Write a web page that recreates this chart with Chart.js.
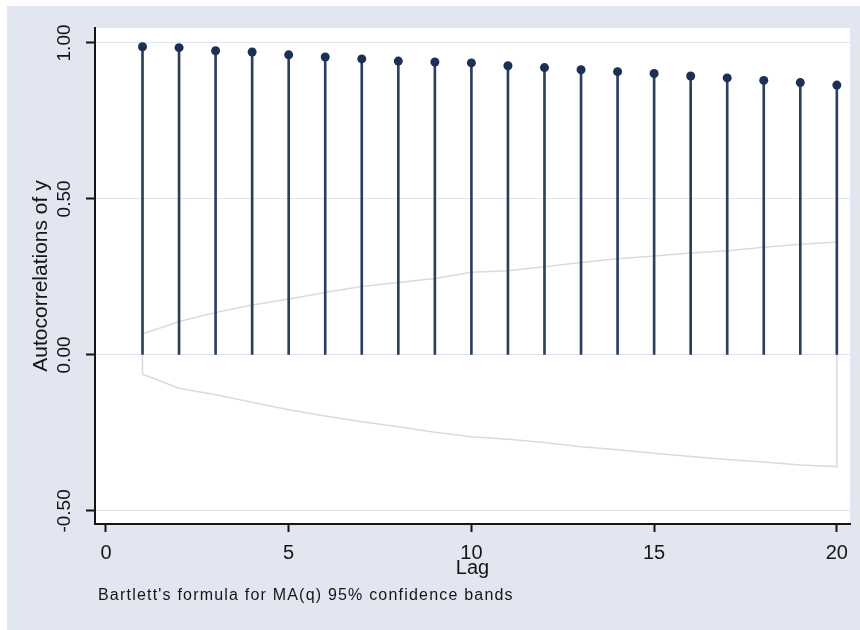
<!DOCTYPE html>
<html lang="en">
<head>
<meta charset="UTF-8">
<title>Autocorrelations of y</title>
<script src="https://cdn.jsdelivr.net/npm/chart.js"></script>
<style>
    html, body { margin: 0; padding: 0; background: #fff; }
    canvas { display: block; }
</style>
</head>
<body>
<canvas id="acf" width="860" height="630"></canvas>
<script>
// values
const lags = [1, 2, 3, 4, 5, 6, 7, 8, 9, 10, 11, 12, 13, 14, 15, 16, 17, 18, 19, 20];
const acf = [0.988, 0.985, 0.975, 0.971, 0.962, 0.955, 0.949, 0.942, 0.939, 0.936,
             0.927, 0.921, 0.914, 0.908, 0.902, 0.894, 0.888, 0.880, 0.873, 0.865];
const bandUpper = [0.067, 0.107, 0.136, 0.160, 0.179, 0.200, 0.219, 0.232, 0.245, 0.265,
                   0.270, 0.283, 0.296, 0.308, 0.317, 0.327, 0.334, 0.345, 0.355, 0.362];
const bandLower = [-0.062, -0.107, -0.128, -0.152, -0.176, -0.196, -0.214, -0.230, -0.248, -0.262,
                   -0.270, -0.281, -0.294, -0.304, -0.315, -0.326, -0.335, -0.343, -0.353, -0.358];
const yTicks = [-0.5, 0, 0.5, 1];
const xTicks = [0, 5, 10, 15, 20];
const yTitle = 'Autocorrelations of y';
const xTitle = 'Lag';
const note = "Bartlett's formula for MA(q) 95% confidence bands";

const FONT = "'Liberation Sans', Arial, sans-serif";
const INK = '#151515';

// outline of the confidence band: upper edge, then back along the lower edge
let band = [];
for (let i = 0; i < lags.length; i++) band.push({x: lags[i], y: bandUpper[i]});
for (let i = lags.length - 1; i >= 0; i--) band.push({x: lags[i], y: bandLower[i]});
band.push({x: lags[0], y: bandUpper[0]});

const stems = lags.map((l, i) => ({x: l, y: acf[i]}));

const background = {
    id: 'background',
    beforeDraw(chart) {
        const {ctx, chartArea: a} = chart;
        ctx.save();
        ctx.fillStyle = '#ffffff';
        ctx.fillRect(0, 0, chart.width, chart.height);
        ctx.fillStyle = '#e1e6f0';
        ctx.fillRect(7, 6, chart.width - 7, chart.height - 6);
        ctx.fillStyle = '#ffffff';
        ctx.fillRect(a.left, a.top, a.right - a.left, a.bottom - a.top);
        ctx.restore();
    }
};

// vertical y tick labels and the note under the graph
const extras = {
    id: 'extras',
    afterDraw(chart) {
        const {ctx} = chart;
        const ys = chart.scales.y;
        ctx.save();
        ctx.fillStyle = INK;
        ctx.font = '19px ' + FONT;
        ctx.textAlign = 'center';
        ctx.textBaseline = 'middle';
        yTicks.forEach(v => {
            ctx.save();
            ctx.translate(65, ys.getPixelForValue(v));
            ctx.rotate(-Math.PI / 2);
            ctx.fillText(v.toFixed(2), 0, 0);
            ctx.restore();
        });
        ctx.font = '16px ' + FONT;
        ctx.letterSpacing = '1.2px';
        ctx.textAlign = 'left';
        ctx.textBaseline = 'alphabetic';
        ctx.fillText(note, 98, 600);
        ctx.restore();
    }
};

new Chart(document.getElementById('acf'), {
    type: 'bar',
    data: {
        datasets: [
            {
                type: 'scatter',
                data: stems,
                pointRadius: 4.5,
                pointHoverRadius: 4.5,
                pointBackgroundColor: '#1c2f54',
                pointBorderWidth: 0,
                order: 1
            },
            {
                type: 'bar',
                data: stems,
                backgroundColor: '#2e3f5c',
                barThickness: 2,
                grouped: false,
                order: 2
            },
            {
                type: 'scatter',
                data: band,
                showLine: true,
                borderColor: '#dadbdf',
                borderWidth: 1.5,
                pointRadius: 0,
                fill: false,
                order: 3
            }
        ]
    },
    options: {
        responsive: false,
        animation: false,
        layout: {padding: {left: 0, top: 28, right: 10, bottom: 0}},
        plugins: {legend: {display: false}, tooltip: {enabled: false}},
        scales: {
            x: {
                type: 'linear',
                offset: false,
                min: -0.3,
                max: 20.36,
                afterBuildTicks: s => { s.ticks = xTicks.map(v => ({value: v})); },
                afterFit: s => { s.height = 106; },
                grid: {offset: false, drawOnChartArea: false, drawTicks: true, tickLength: 8, tickColor: INK, tickWidth: 2},
                border: {display: true, color: INK, width: 2},
                ticks: {color: INK, font: {family: FONT, size: 20}, padding: 9, maxRotation: 0},
                title: {display: true, text: xTitle, color: INK, font: {family: FONT, size: 20}, padding: {top: 0, bottom: 50}}
            },
            y: {
                min: -0.542,
                max: 1.048,
                afterBuildTicks: s => { s.ticks = yTicks.map(v => ({value: v})); },
                afterFit: s => { s.width = 95; },
                grid: {color: '#dfe5ee', lineWidth: 1, drawTicks: true, tickLength: 9, tickColor: INK, tickWidth: 2},
                border: {display: true, color: INK, width: 2},
                ticks: {display: false},
                title: {display: true, text: yTitle, color: INK, font: {family: FONT, size: 21}, padding: {top: 29, bottom: 0}}
            }
        }
    },
    plugins: [background, extras]
});
</script>
</body>
</html>
